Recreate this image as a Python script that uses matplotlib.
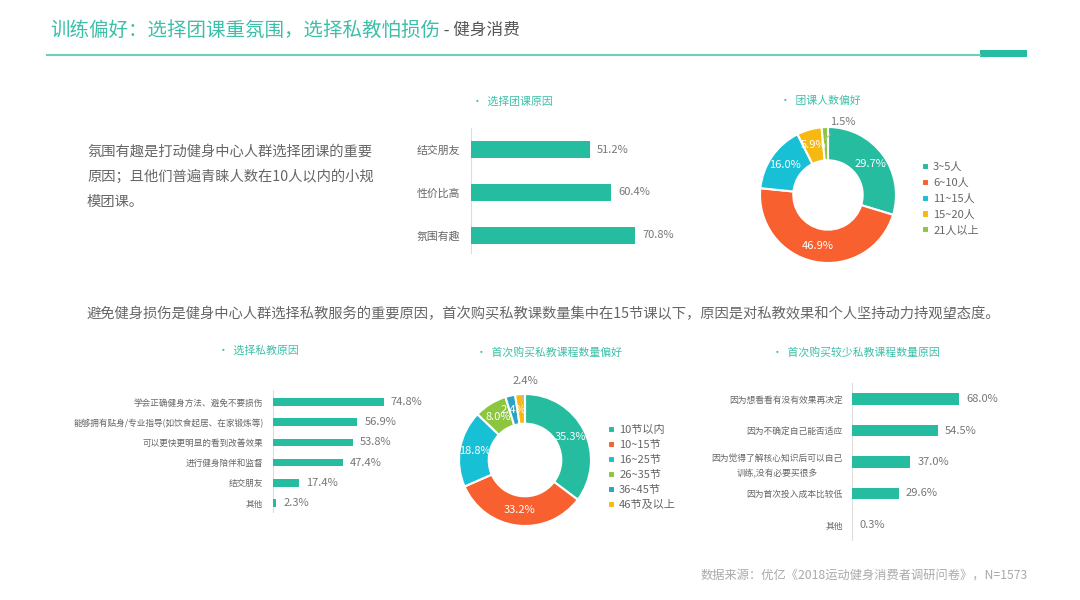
import numpy as np
import matplotlib
matplotlib.use('Agg')
import matplotlib.pyplot as plt
from matplotlib.lines import Line2D
from matplotlib.patches import Rectangle

plt.rcParams['font.family'] = ['Noto Sans CJK SC', 'DejaVu Sans']

# ---- data ----
title_main = "训练偏好：选择团课重氛围，选择私教怕损伤"
title_sub = " - 健身消费"

intro_lines = ["氛围有趣是打动健身中心人群选择团课的重要",
               "原因；且他们普遍青睐人数在10人以内的小规",
               "模团课。"]
middle_line = "避免健身损伤是健身中心人群选择私教服务的重要原因，首次购买私教课数量集中在15节课以下，原因是对私教效果和个人坚持动力持观望态度。"
source_line = "数据来源：优亿《2018运动健身消费者调研问卷》，N=1573"

group_title = "选择团课原因"
group_cats = ["结交朋友", "性价比高", "氛围有趣"]
group_vals = [51.2, 60.4, 70.8]

size_title = "团课人数偏好"
size_cats = ["3~5人", "6~10人", "11~15人", "15~20人", "21人以上"]
size_vals = [29.7, 46.9, 16.0, 5.9, 1.5]

pt_title = "选择私教原因"
pt_cats = ["学会正确健身方法、避免不要损伤", "能够拥有贴身/专业指导(如饮食起居、在家锻炼等)",
           "可以更快更明显的看到改善效果", "进行健身陪伴和监督", "结交朋友", "其他"]
pt_vals = [74.8, 56.9, 53.8, 47.4, 17.4, 2.3]

count_title = "首次购买私教课程数量偏好"
count_cats = ["10节以内", "10~15节", "16~25节", "26~35节", "36~45节", "46节及以上"]
count_vals = [35.3, 33.2, 18.8, 8.0, 2.4, 2.4]

few_title = "首次购买较少私教课程数量原因"
few_cats = ["因为想看看有没有效果再决定", "因为不确定自己能否适应",
            "因为觉得了解核心知识后可以自己\n训练,没有必要买很多", "因为首次投入成本比较低", "其他"]
few_vals = [68.0, 54.5, 37.0, 29.6, 0.3]

TEAL = '#26bc9f'
TITLE_TEAL = '#3cbfa8'
GRAY = '#666666'
VAL_GRAY = '#777777'
ORANGE, CYAN, YELLOW, GREEN, BLUE = '#f8602f', '#18c0d6', '#f7b90f', '#8cc63f', '#2aa4c6'
size_colors = [TEAL, ORANGE, CYAN, YELLOW, GREEN]
count_colors = [TEAL, ORANGE, CYAN, GREEN, BLUE, YELLOW]

W, H = 1080, 600
fig = plt.figure(figsize=(W / 100, H / 100), dpi=100)


def fx(x):
    return x / W


def fy(y):
    return 1 - y / H


def box(x0, y0, x1, y1):
    return fig.add_axes([fx(x0), fy(y1), (x1 - x0) / W, (y1 - y0) / H])


def section_title(x, y, text):
    fig.text(fx(x), fy(y), "•  " + text, color=TITLE_TEAL, fontsize=7.8, va='center', ha='left')


def hbar(cats, vals, x0, scale, y_top, y_bot, c0, cn, bar_h, fs_cat, pad):
    ax = box(x0, y_top, x0 + 100 * scale, y_bot)
    n = len(cats)
    pos = np.arange(n)
    ax.barh(pos, vals, height=bar_h, color=TEAL, zorder=3)
    step = (cn - c0) / (n - 1)
    ax.set_ylim(n - 1 + (y_bot - cn) / step, -(c0 - y_top) / step)
    ax.set_xlim(0, 100)
    ax.set_yticks(pos)
    ax.set_yticklabels(cats, fontsize=fs_cat, color=GRAY)
    for t in ax.get_yticklabels():
        t.set_multialignment('center')
        t.set_linespacing(1.8)
    ax.tick_params(axis='y', length=0, pad=pad)
    ax.set_xticks([])
    for s in ['top', 'right', 'bottom']:
        ax.spines[s].set_visible(False)
    ax.spines['left'].set_color('#dddddd')
    ax.patch.set_alpha(0)
    for i, v in enumerate(vals):
        ax.annotate("{:.1f}%".format(v), xy=(v, i), xytext=(5, 0), textcoords='offset points',
                    va='center', ha='left', fontsize=8, color=VAL_GRAY, zorder=2)
    return ax


def donut(cats, vals, colors, cx, cy, r, width, outside, out_pos, leg_x, leg_y, leg_space):
    ax = box(cx - r, cy - r, cx + r, cy + r)
    wedges, _ = ax.pie(vals, colors=colors, startangle=90, counterclock=False,
                       radius=1, wedgeprops=dict(width=width, edgecolor='white', linewidth=1.5))
    ax.set_xlim(-1, 1)
    ax.set_ylim(-1, 1)
    for i, (w, v) in enumerate(zip(wedges, vals)):
        ang = np.deg2rad((w.theta1 + w.theta2) / 2)
        if i == outside:
            lx = (out_pos[0] - cx) / r
            ly = (cy - out_pos[1]) / r
            ax.annotate("{:.1f}%".format(v), xy=(0.82 * np.cos(ang), 0.82 * np.sin(ang)),
                        xytext=(lx, ly), ha='center', va='center', fontsize=8, color=VAL_GRAY,
                        arrowprops=dict(arrowstyle='-', color='#bbbbbb', lw=0.8, shrinkA=5, shrinkB=0))
        else:
            ax.text(0.77 * np.cos(ang), 0.77 * np.sin(ang), "{:.1f}%".format(v), ha='center',
                    va='center', fontsize=8, color='white')
    fig.legend(wedges, cats, loc='upper left', bbox_to_anchor=(fx(leg_x), fy(leg_y)),
               bbox_transform=fig.transFigure, frameon=False, fontsize=8, labelcolor=GRAY,
               handlelength=0.6, handleheight=0.6, handletextpad=0.4, labelspacing=leg_space,
               borderaxespad=0, borderpad=0)
    return ax


# ---- header ----
t1 = fig.text(fx(50), fy(30), title_main, color=TITLE_TEAL, fontsize=14, va='center', ha='left')
fig.add_artist(Line2D([fx(47), fx(980)], [fy(55), fy(55)], color='#6fcdbb', lw=1.5))
fig.add_artist(Rectangle((fx(980), fy(57)), 47 / W, 7 / H, transform=fig.transFigure,
                         color=TEAL, lw=0))
hdr = fig.add_axes([0, 0, 1, 1])
hdr.axis('off')
hdr.annotate(title_sub, xy=(1, 0.5), xycoords=t1, va='center', ha='left', fontsize=12, color='#555555')

# ---- texts ----
for i, line in enumerate(intro_lines):
    fig.text(fx(87), fy(152 + 25 * i), line, fontsize=10.3, color=GRAY, va='center', ha='left')
fig.text(fx(87), fy(314), middle_line, fontsize=10.3, color=GRAY, va='center', ha='left')
fig.text(fx(1028), fy(575), source_line, fontsize=8.8, color='#aaaaaa', va='center', ha='right')

# ---- top charts ----
section_title(472, 102, group_title)
hbar(group_cats, group_vals, 471, 2.32, 128, 253, 150, 235, 0.4, 7.8, 8)

section_title(780, 101, size_title)
donut(size_cats, size_vals, size_colors, 828, 195, 68, 0.49, 4, (843, 122), 922, 162, 0.52)

# ---- bottom charts ----
section_title(218, 351, pt_title)
hbar(pt_cats, pt_vals, 273, 1.484, 390, 512, 402, 503, 0.38, 6.2, 7)

section_title(476, 352, count_title)
donut(count_cats, count_vals, count_colors, 525, 460, 66, 0.45, 5, (525, 381), 608, 425, 0.45)

section_title(772, 352, few_title)
hbar(few_cats, few_vals, 852, 1.574, 383, 540, 399, 525, 0.38, 6.3, 6.5)

fig.savefig('out.png', dpi=100, facecolor='white')
